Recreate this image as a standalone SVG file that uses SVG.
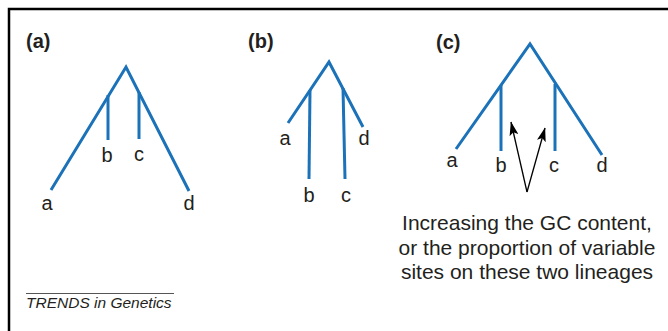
<svg xmlns="http://www.w3.org/2000/svg" width="668" height="331" viewBox="0 0 668 331">
<defs>
<style>
.br{fill:none;stroke:#1b72b8;stroke-width:3;stroke-linecap:butt;stroke-linejoin:miter}
.lbl{font-family:"Liberation Sans",Arial,sans-serif;font-size:20px;fill:#231f20;text-anchor:middle}
.pl{font-family:"Liberation Sans",Arial,sans-serif;font-size:20px;font-weight:bold;fill:#231f20}
.note{font-family:"Liberation Sans",Arial,sans-serif;font-size:21px;fill:#231f20;text-anchor:middle}
.ar{fill:none;stroke:#000;stroke-width:1.3}
</style>
<marker id="ah" viewBox="0 0 14 9" refX="13.5" refY="4.5" markerWidth="14" markerHeight="9" markerUnits="userSpaceOnUse" orient="auto">
<path d="M0,0 L14,4.5 L0,9 L3,4.5 Z" fill="#000"/>
</marker>
</defs>
<rect width="668" height="331" fill="#fff"/>
<path d="M9,331 V9 H668" fill="none" stroke="#000" stroke-width="2.5"/>
<g id="tree-a">
<text class="pl" x="26" y="48">(a)</text>
<path class="br" d="M51,190 L126,67 L189,191"/>
<path class="br" d="M108,95 V140"/>
<path class="br" d="M139,92 V139"/>
<text class="lbl" x="47" y="210">a</text>
<text class="lbl" x="107" y="162">b</text>
<text class="lbl" x="139" y="161">c</text>
<text class="lbl" x="189" y="210">d</text>
</g>
<g id="tree-b">
<text class="pl" x="248" y="48">(b)</text>
<path class="br" d="M288,123 L329,62 L363,127"/>
<path class="br" d="M310,90 L309,179"/>
<path class="br" d="M343,88 L345,179"/>
<text class="lbl" x="285" y="145">a</text>
<text class="lbl" x="364" y="145">d</text>
<text class="lbl" x="309" y="202">b</text>
<text class="lbl" x="346" y="202">c</text>
</g>
<g id="tree-c">
<text class="pl" x="436" y="49">(c)</text>
<path class="br" d="M456,149 L530,44 L602,155"/>
<path class="br" d="M501,85 V151"/>
<path class="br" d="M555,84 V151"/>
<text class="lbl" x="452" y="167">a</text>
<text class="lbl" x="501" y="172">b</text>
<text class="lbl" x="554" y="172">c</text>
<text class="lbl" x="602" y="172">d</text>
</g>
<g id="connectors">
<line class="ar" x1="527" y1="192" x2="511" y2="122" marker-end="url(#ah)"/>
<line class="ar" x1="527" y1="192" x2="545" y2="128" marker-end="url(#ah)"/>
</g>
<g id="note">
<text class="note" x="527" y="230">Increasing the GC content,</text>
<text class="note" x="527" y="255">or the proportion of variable</text>
<text class="note" x="527" y="279">sites on these two lineages</text>
</g>
<g id="credit">
<line x1="26" y1="293.5" x2="174" y2="293.5" stroke="#555" stroke-width="1"/>
<text x="26" y="308" font-family="'Liberation Sans',Arial,sans-serif" font-size="15.5" font-style="italic" fill="#231f20">TRENDS in Genetics</text>
</g>
</svg>
